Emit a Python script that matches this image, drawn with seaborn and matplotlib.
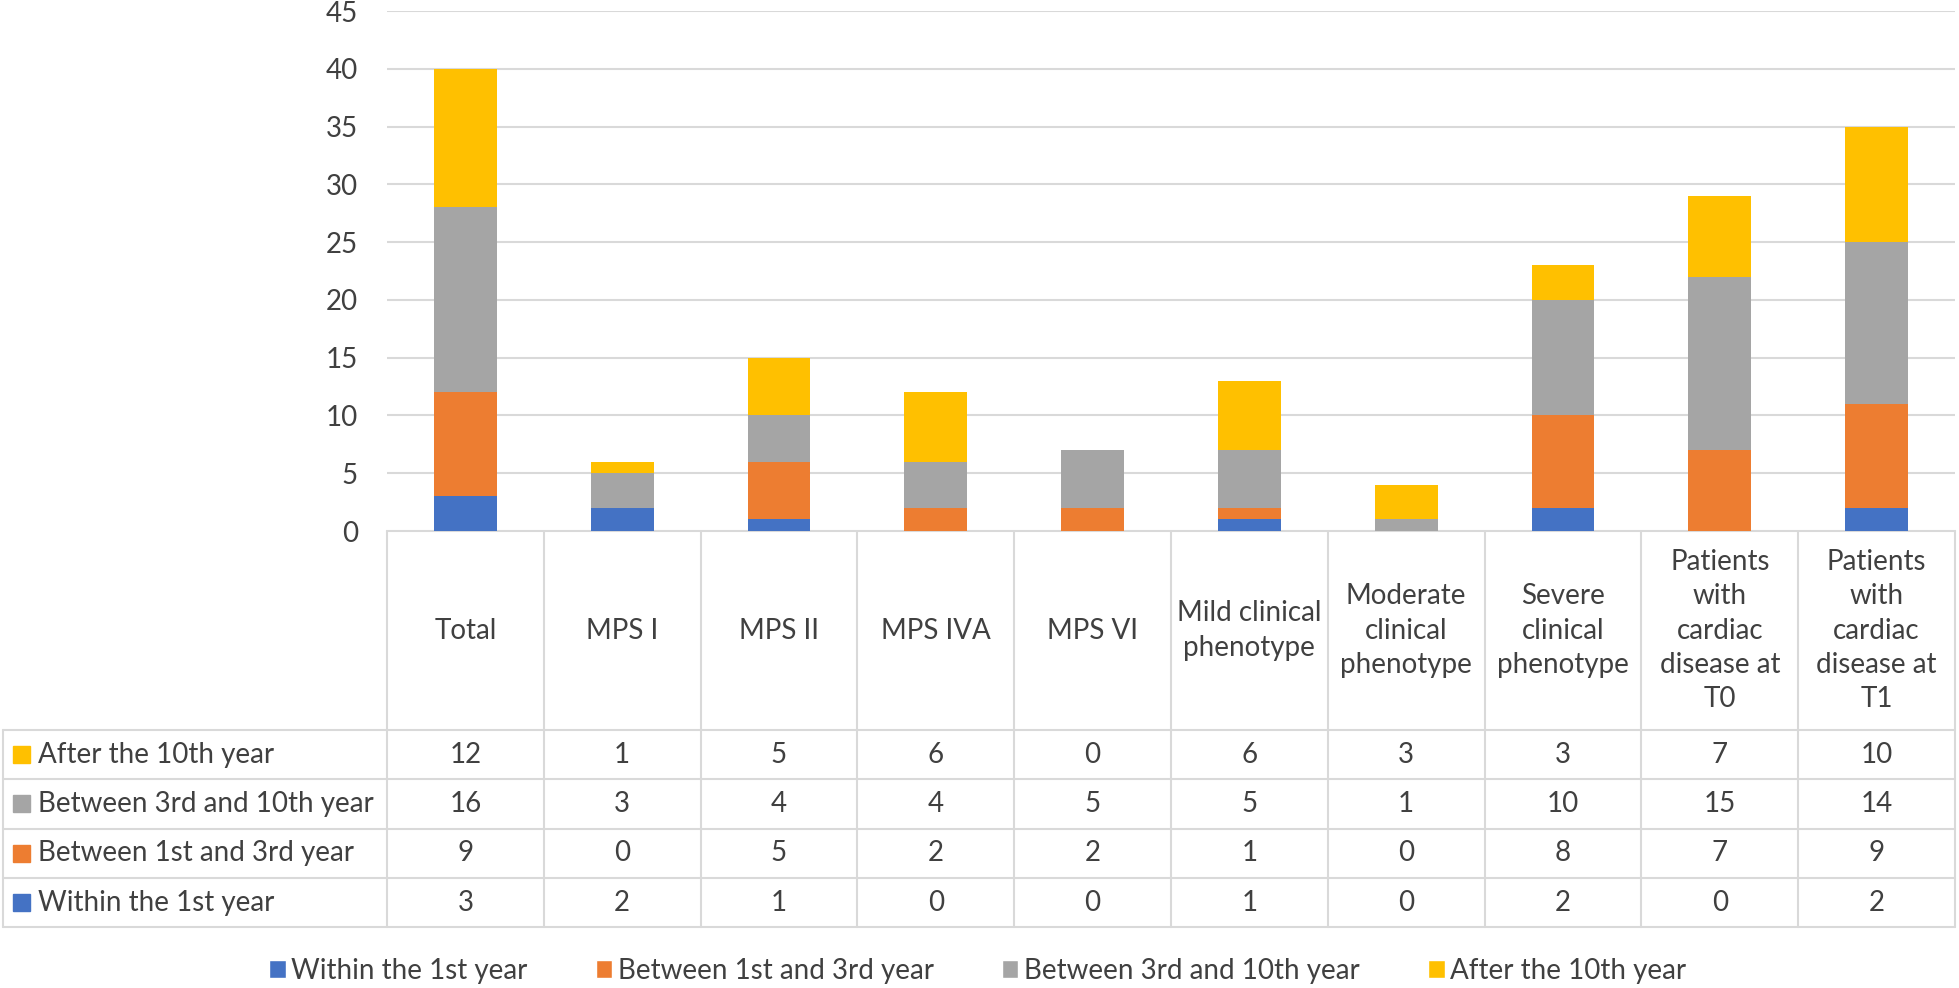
import numpy as np
import pandas as pd
import seaborn as sns
import matplotlib.pyplot as plt
from matplotlib.patches import Patch, Rectangle

# Dados
categories = ['Total', 'MPS I', 'MPS II', 'MPS IVA', 'MPS VI',
              'Mild clinical\nphenotype', 'Moderate\nclinical\nphenotype',
              'Severe\nclinical\nphenotype',
              'Patients\nwith\ncardiac\ndisease at\nT0',
              'Patients\nwith\ncardiac\ndisease at\nT1']
series_names = ['Within the 1st year', 'Between 1st and 3rd year',
                'Between 3rd and 10th year', 'After the 10th year']
within_1st = [3, 2, 1, 0, 0, 1, 0, 2, 0, 2]
between_1_3 = [9, 0, 5, 2, 2, 1, 0, 8, 7, 9]
between_3_10 = [16, 3, 4, 4, 5, 5, 1, 10, 15, 14]
after_10th = [12, 1, 5, 6, 0, 6, 3, 3, 7, 10]
colors = ['#4472C4', '#ED7D31', '#A5A5A5', '#FFC000']
y_ticks = [0, 5, 10, 15, 20, 25, 30, 35, 40, 45]

series = [within_1st, between_1_3, between_3_10, after_10th]
df = pd.DataFrame({'category': categories})
for name, vals in zip(series_names, series):
    df[name] = vals

sns.set_style('white')
plt.rcParams['font.family'] = ['Lato', 'DejaVu Sans']
txt_color = '#404040'
grid_color = '#D9D9D9'
fs = 20

# Layout em pixels
W, H = 1959, 988
left_px, right_px = 387, 1955
top_px, base_px = 11, 531
header_bottom = 730
row_h = 49.3
table_left = 3
n = len(categories)
col_w = (right_px - left_px) / n

fig = plt.figure(figsize=(W / 100, H / 100), dpi=100)
ax = fig.add_axes([left_px / W, 1 - base_px / H, (right_px - left_px) / W, (base_px - top_px) / H])

# Barras empilhadas: desenha do acumulado maior para o menor
stack = np.cumsum([df[s].values for s in series_names], axis=0)
for i in range(len(series_names) - 1, -1, -1):
    sns.barplot(x=df['category'], y=stack[i], order=categories, color=colors[i],
                width=0.4, saturation=1, ax=ax, linewidth=0)

ax.set_xlim(-0.5, n - 0.5)
ax.set_ylim(0, 45)
ax.set_yticks(y_ticks)
ax.yaxis.grid(True, color=grid_color, linewidth=1.5)
ax.set_axisbelow(True)
ax.set_xlabel('')
ax.set_ylabel('')
for sp in ax.spines.values():
    sp.set_visible(False)
ax.tick_params(axis='x', length=0, labelbottom=False)
ax.tick_params(axis='y', length=0, pad=21, labelsize=fs, labelcolor=txt_color)

# Tabela de dados abaixo do gráfico
tab = fig.add_axes([0, 0, 1, 1], zorder=-1)
tab.set_xlim(0, W)
tab.set_ylim(H, 0)
tab.axis('off')

table_bottom = header_bottom + 4 * row_h
lw = 1.5
for k in range(n + 1):
    x = left_px + k * col_w
    tab.plot([x, x], [base_px, table_bottom], color=grid_color, lw=lw)
tab.plot([table_left, table_left], [header_bottom, table_bottom], color=grid_color, lw=lw)
tab.plot([left_px, right_px], [base_px, base_px], color=grid_color, lw=lw)
for j in range(5):
    y = header_bottom + j * row_h
    tab.plot([table_left, right_px], [y, y], color=grid_color, lw=lw)

for k, cat in enumerate(categories):
    tab.text(left_px + (k + 0.5) * col_w, (base_px + header_bottom) / 2, cat,
             ha='center', va='center', fontsize=fs, color=txt_color, linespacing=1.4)

rows = list(range(len(series_names) - 1, -1, -1))
for j, si in enumerate(rows):
    yc = header_bottom + (j + 0.5) * row_h
    tab.add_patch(Rectangle((13, yc - 8.5), 17, 17, color=colors[si]))
    tab.text(38, yc, series_names[si], ha='left', va='center', fontsize=fs, color=txt_color)
    for k, v in enumerate(series[si]):
        tab.text(left_px + (k + 0.5) * col_w, yc, str(v), ha='center', va='center',
                 fontsize=fs, color=txt_color)

handles = [Patch(facecolor=c) for c in colors]
fig.legend(handles, series_names, loc='center', bbox_to_anchor=(0.499, 1 - 971 / H), ncol=4,
           frameon=False, handlelength=0.6, handleheight=0.6, handletextpad=0.2,
           columnspacing=2.45, fontsize=fs, labelcolor=txt_color)

plt.savefig('out.png', dpi=100)
